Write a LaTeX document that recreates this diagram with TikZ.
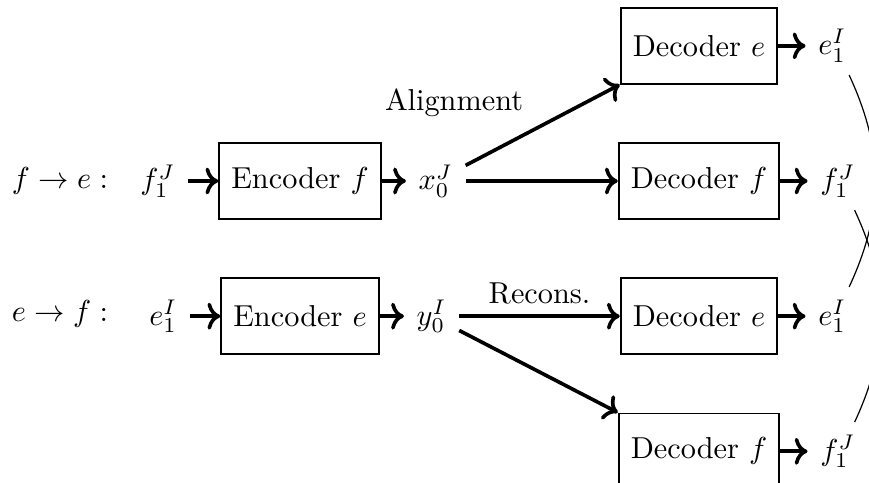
\documentclass[tikz,border=0pt]{standalone}
\usepackage{amsmath,amssymb}
\usepackage{tikz}
\usetikzlibrary{arrows.meta,positioning}
\tikzset{
  link/.style={->, very thick},
  coder/.style={draw, semithick, minimum height=25pt, inner xsep=4pt},
  word/.style={inner sep=4pt},
  tie/.style={thin}
}

\begin{document}
\begin{tikzpicture}[x=0.33pt, y=-0.33pt, node distance=19pt and 10pt]
  \clip (0,0) rectangle (869,482);
  \node[coder] (encF) at (300,181) {Encoder $f$};
  \node[coder, below=of encF] (encE) {Encoder $e$};
  \node[coder] (decF2) at (699,181) {Decoder $f$};
  \node[coder, above=of decF2] (decE1) {Decoder $e$};
  \node[coder, below=of decF2] (decE3) {Decoder $e$};
  \node[coder, below=of decE3] (decF4) {Decoder $f$};
  \node[word, left=10pt of encF] (srcF) {$f_1^J$};
  \node[word, left=10pt of encE] (srcE) {$e_1^I$};
  \node (dirF) at (60,181) {$f \rightarrow e:$};
  \node (dirE) at (60,314) {$e \rightarrow f:$};
  \node[word, right=8pt of encF] (xzero) {$x_0^J$};
  \node[word, right=8pt of encE] (yzero) {$y_0^I$};
  \node[word, right=9pt of decE1] (outE1) {$e_1^I$};
  \node[word, right=9pt of decF2] (outF2) {$f_1^J$};
  \node[word, right=9pt of decE3] (outE3) {$e_1^I$};
  \node[word, right=9pt of decF4] (outF4) {$f_1^J$};
  \draw[link] (srcF) -- (encF);
  \draw[link] (srcE) -- (encE);
  \draw[link] (encF) -- (xzero);
  \draw[link] (encE) -- (yzero);
  \draw[link] (xzero) -- node[pos=0.45, above left] (alignLbl) {Alignment} (decE1.south west);
  \draw[link] (xzero) -- (decF2);
  \draw[link] (yzero) -- node[midway, above] (reconsLbl) {Recons.} (decE3);
  \draw[link] (yzero) -- (decF4.north west);
  \draw[link] (decE1) -- (outE1);
  \draw[link] (decF2) -- (outF2);
  \draw[link] (decE3) -- (outE3);
  \draw[link] (decF4) -- (outF4);
  % crossing ties on the right edge
  \draw[tie] (outE1.-60) to[bend left=25] (outE3.60);
  \draw[tie] (outF2.-60) to[bend left=25] (outF4.60);
\end{tikzpicture}
\end{document}
